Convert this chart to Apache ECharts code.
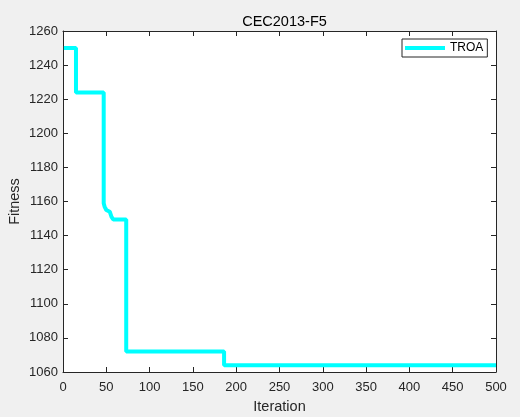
<!DOCTYPE html>
<html>
<head>
<meta charset="utf-8">
<script src="https://cdn.jsdelivr.net/npm/echarts@6/dist/echarts.min.js"></script>
<style>
html,body{margin:0;padding:0;background:#f0f0f0;}
#chart{width:520px;height:417px;}
</style>
</head>
<body>
<div id="chart"></div>
<script>
// Data (change points of the best-so-far convergence curve)
const iterations = [1, 15, 47, 48, 50, 52, 54, 56, 58, 73, 186, 500];
const fitness    = [1250, 1224, 1159, 1157, 1155, 1154, 1153, 1151, 1149.5, 1072, 1064, 1064];
const seriesName = 'TROA';
const titleText = 'CEC2013-F5';
const xName = 'Iteration';
const yName = 'Fitness';
const xTicks = [0, 50, 100, 150, 200, 250, 300, 350, 400, 450, 500];
const yTicks = [1060, 1080, 1100, 1120, 1140, 1160, 1180, 1200, 1220, 1240, 1260];

const font = '"Liberation Sans", Arial, Helvetica, sans-serif';
const axisColor = '#262626';

const chart = echarts.init(document.getElementById('chart'), null, {renderer: 'canvas'});

const xMin = xTicks[0], xMax = xTicks[xTicks.length - 1], xInt = xTicks[1] - xTicks[0];
const yMin = yTicks[0], yMax = yTicks[yTicks.length - 1], yInt = yTicks[1] - yTicks[0];
const fmt = v => String(v);

function baseX(pos, showLabel) {
  return {
    type: 'value', position: pos, min: xMin, max: xMax, interval: xInt,
    axisLine: {show: true, onZero: false, lineStyle: {color: axisColor, width: 1}},
    axisTick: {show: true, inside: true, length: 5, lineStyle: {color: axisColor}},
    axisLabel: {show: showLabel, color: axisColor, fontFamily: font, fontSize: 13, margin: 9, formatter: fmt},
    splitLine: {show: false}
  };
}
function baseY(pos, showLabel) {
  return {
    type: 'value', position: pos, min: yMin, max: yMax, interval: yInt,
    axisLine: {show: true, onZero: false, lineStyle: {color: axisColor, width: 1}},
    axisTick: {show: true, inside: true, length: 5, lineStyle: {color: axisColor}},
    axisLabel: {show: showLabel, color: axisColor, fontFamily: font, fontSize: 13, margin: 5, formatter: fmt},
    splitLine: {show: false}
  };
}

const x0 = baseX('bottom', true);
x0.name = xName; x0.nameLocation = 'middle'; x0.nameGap = 27;
x0.nameTextStyle = {color: axisColor, fontFamily: font, fontSize: 14.5};
const x1 = baseX('top', false);
const y0 = baseY('left', true);
y0.name = yName; y0.nameLocation = 'middle'; y0.nameGap = 41; y0.nameMoveOverlap = false;
y0.nameTextStyle = {color: axisColor, fontFamily: font, fontSize: 14.5};
const y1 = baseY('right', false);

const data = iterations.map((it, i) => [it, fitness[i]]);

chart.setOption({
  backgroundColor: '#f0f0f0',
  animation: false,
  title: {
    text: titleText, left: 279.5, top: 9, textAlign: 'center',
    textStyle: {color: '#000', fontFamily: font, fontSize: 14.5, fontWeight: 'normal'}
  },
  legend: {
    data: [{name: seriesName, icon: 'rect'}],
    left: 402, top: 39,
    itemWidth: 40, itemHeight: 4, itemGap: 4,
    padding: [3, 4, 3, 3],
    backgroundColor: '#fff', borderColor: '#262626', borderWidth: 1, borderRadius: 0,
    textStyle: {color: '#000', fontFamily: font, fontSize: 12}
  },
  grid: {
    left: 63, right: 24, top: 31, bottom: 45,
    containLabel: false, outerBoundsMode: 'none',
    show: true, backgroundColor: '#ffffff', borderColor: axisColor, borderWidth: 0
  },
  xAxis: [x0, x1],
  yAxis: [y0, y1],
  series: [{
    name: seriesName, type: 'line', step: 'end', data: data,
    showSymbol: false, symbol: 'none',
    lineStyle: {color: '#00ffff', width: 4},
    itemStyle: {color: '#00ffff'},
    clip: true
  }]
});
</script>
</body>
</html>
